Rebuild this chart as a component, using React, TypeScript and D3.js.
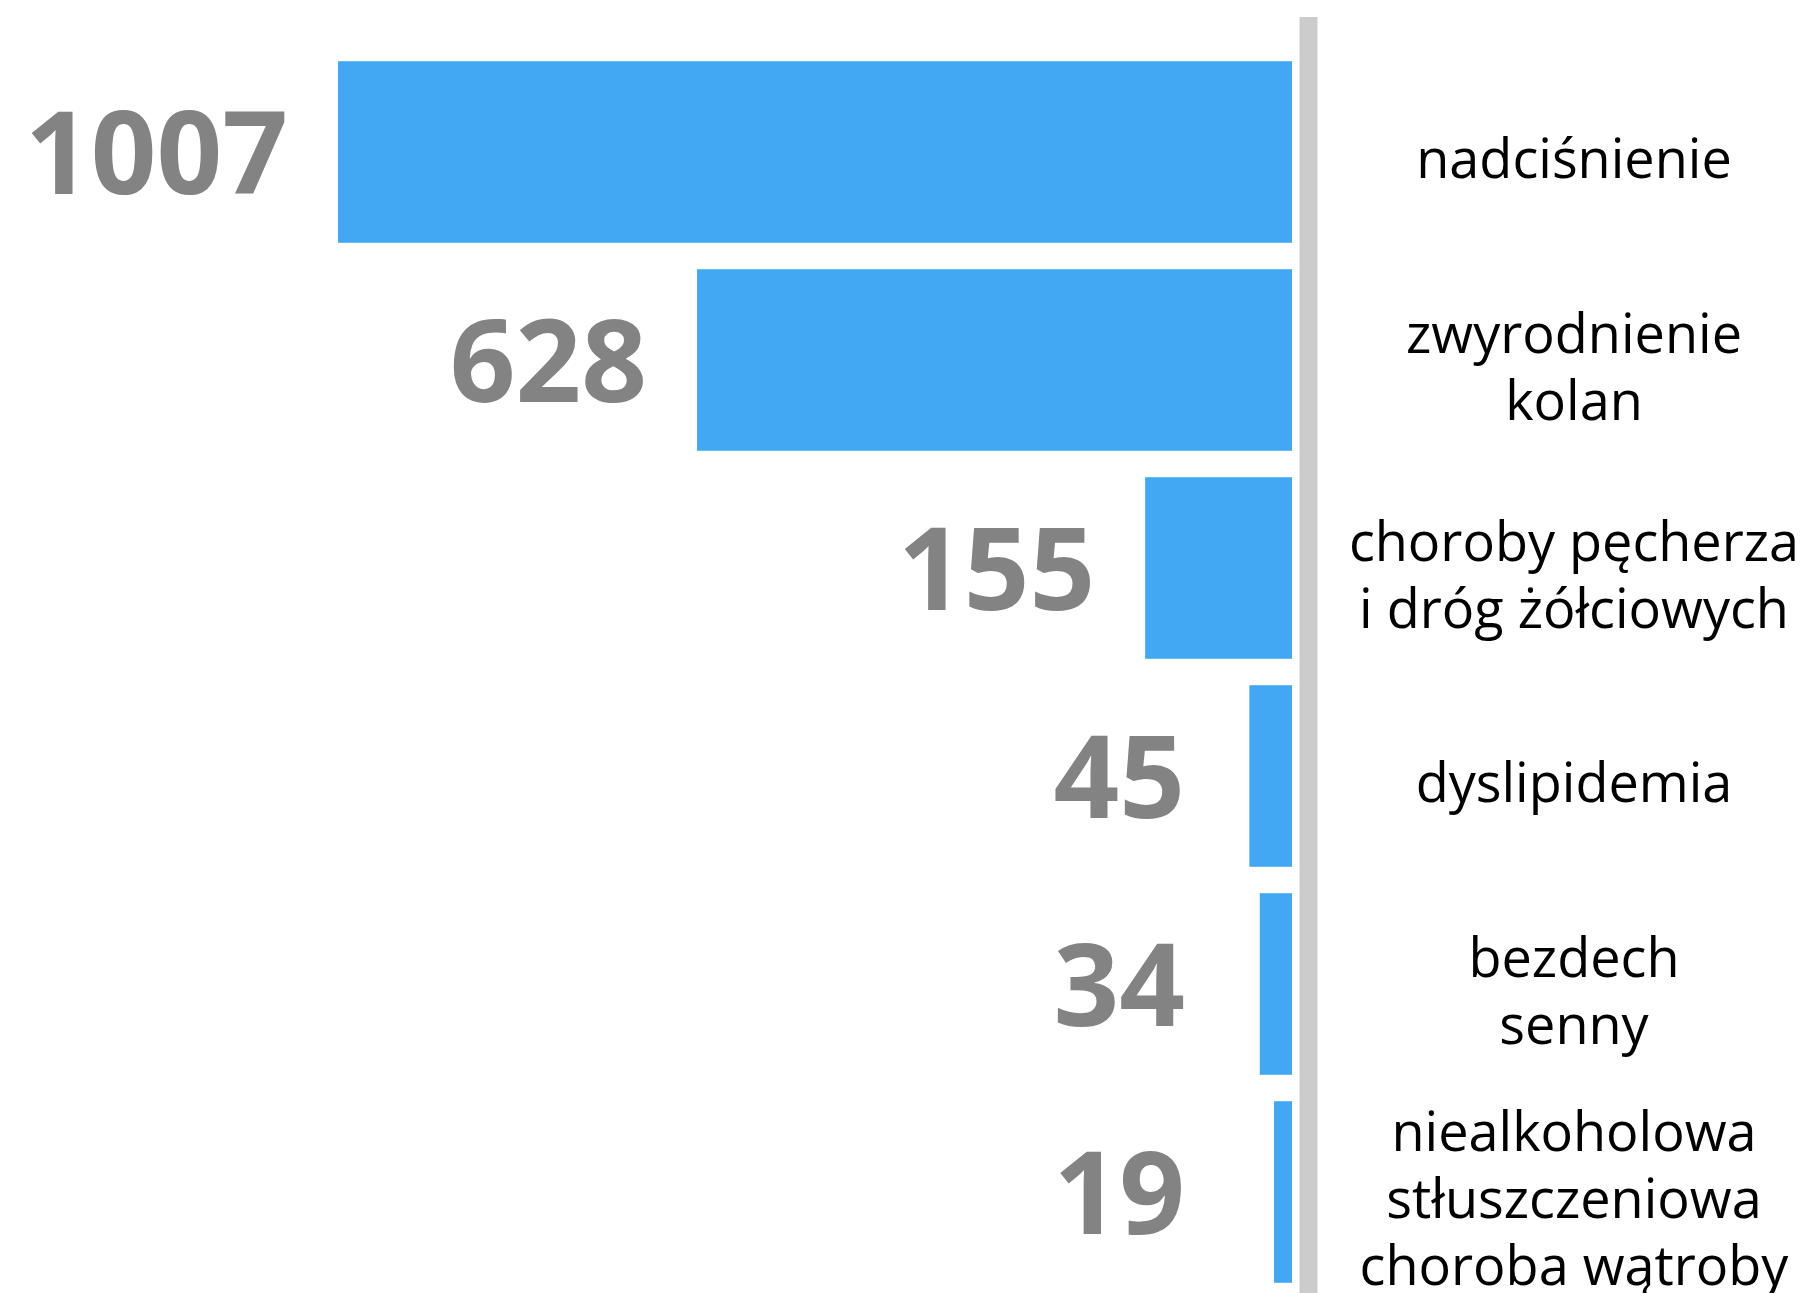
import React, { useRef, useEffect } from 'react';
import * as d3 from 'd3';

// values
const categories = [
  'nadciśnienie',
  'zwyrodnienie kolan',
  'choroby pęcherza i dróg żółciowych',
  'dyslipidemia',
  'bezdech senny',
  'niealkoholowa stłuszczeniowa choroba wątroby',
];
const categoryLines = [
  ['nadciśnienie'],
  ['zwyrodnienie', 'kolan'],
  ['choroby pęcherza', 'i dróg żółciowych'],
  ['dyslipidemia'],
  ['bezdech', 'senny'],
  ['niealkoholowa', 'stłuszczeniowa', 'choroba wątroby'],
];
const values = [1007, 628, 155, 45, 34, 19];

function App() {
  const ref = useRef<SVGSVGElement>(null);

  const outerWidth = 1808, outerHeight = 1293;
  const barRight = 1292, barLeftMax = 338;
  const axisX = 1308.5;
  const labelCenter = 1574;
  const lineHeight = 67;

  useEffect(() => {
    const svg = d3.select(ref.current);
    svg.selectAll('*').remove();

    const xScale = d3.scaleLinear()
      .domain([0, d3.max(values) as number])
      .range([barRight, barLeftMax]);

    const yScale = d3.scaleBand<string>()
      .domain(categories)
      .range([48, 1296])
      .paddingInner(0.127)
      .paddingOuter(0.0635);

    const rows = categories.map((c, i) => ({ cat: c, value: values[i], lines: categoryLines[i] }));

    svg.append('g')
      .selectAll('rect')
      .data(rows)
      .enter().append('rect')
      .attr('x', (d) => xScale(d.value))
      .attr('y', (d) => yScale(d.cat) as number)
      .attr('width', (d) => barRight - xScale(d.value))
      .attr('height', yScale.bandwidth())
      .style('fill', '#42A8F4');

    svg.append('line')
      .attr('x1', axisX).attr('x2', axisX)
      .attr('y1', 17).attr('y2', outerHeight)
      .style('stroke', '#cccccc')
      .style('stroke-width', 18);

    // value labels, kept out of the thin bars
    svg.append('g')
      .selectAll('text')
      .data(rows)
      .enter().append('text')
      .attr('x', (d) => Math.min(xScale(d.value) - 50, 1185))
      .attr('y', (d) => (yScale(d.cat) as number) + yScale.bandwidth() / 2 + 42)
      .attr('text-anchor', 'end')
      .style('font-family', '"Open Sans", sans-serif')
      .style('font-weight', 700)
      .style('font-size', '115px')
      .style('fill', '#838383')
      .text((d) => d.value);

    const cats = svg.append('g')
      .selectAll('text')
      .data(rows)
      .enter().append('text')
      .attr('text-anchor', 'middle')
      .style('font-family', '"Open Sans", sans-serif')
      .style('font-size', '54px')
      .style('fill', '#000');

    cats.each(function (d) {
      const center = (yScale(d.cat) as number) + yScale.bandwidth() / 2;
      const n = d.lines.length;
      d3.select(this).selectAll('tspan')
        .data(d.lines)
        .enter().append('tspan')
        .attr('x', labelCenter)
        .attr('y', (_l, i) => center + 26 + (i - (n - 1) / 2) * lineHeight)
        .text((l) => l);
    });
  }, []);

  return (
    <div className="chart">
      <svg ref={ref} width={outerWidth} height={outerHeight}
        style={{ position: 'absolute', left: 0, top: 0, background: '#fff' }}>
      </svg>
    </div>
  );
}

export default App;
